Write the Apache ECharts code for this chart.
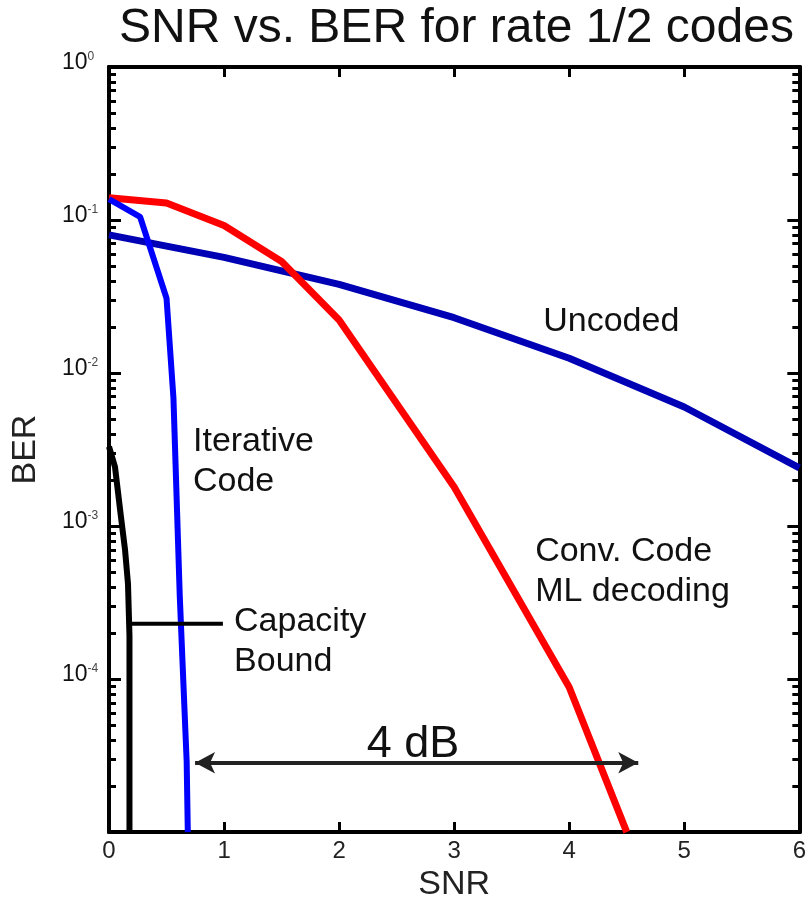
<!DOCTYPE html>
<html>
<head>
<meta charset="utf-8">
<script src="https://cdn.jsdelivr.net/npm/echarts@6/dist/echarts.min.js"></script>
<style>html,body{margin:0;padding:0;background:#fff}#c{width:809px;height:907px}</style>
</head>
<body>
<div id="c"></div>
<script>
// ---- data ----
const uncodedSNR = [0, 1, 2, 3, 4, 5, 6];
const uncodedBER = [0.080, 0.057, 0.038, 0.023, 0.0125, 0.006, 0.0024];
const convSNR = [0, 0.5, 1, 1.5, 2, 3, 4, 4.5];
const convBER = [0.14, 0.129, 0.092, 0.0536, 0.0222, 0.0018, 8.85e-5, 1e-5];
const iterSNR = [0, 0.27, 0.5, 0.56, 0.615, 0.675, 0.685];
const iterBER = [0.137, 0.105, 0.0308, 0.0069, 3.5e-4, 2.9e-5, 1e-5];
const capSNR = [0, 0.052, 0.104, 0.139, 0.165, 0.178, 0.178];
const capBER = [0.0033, 0.00244, 0.00115, 7.05e-4, 4.2e-4, 1.92e-4, 1e-5];
const xTicks = [0, 1, 2, 3, 4, 5, 6];
const yExponents = [0, -1, -2, -3, -4, -5];
// annotations (data coordinates: SNR, BER)
const noteTexts = ['Uncoded', 'Iterative\nCode', 'Capacity\nBound', 'Conv. Code\nML decoding'];
const noteSNR = [3.774, 0.73, 1.087, 3.704];
const noteBER = [0.0218, 0.00265, 1.75e-4, 5.0e-4];
const pointerSNR = [0.17, 0.99];
const pointerBER = [2.3e-4, 2.3e-4];
const arrowSNR = [0.748, 4.6];
const arrowBER = 2.84e-5;
const gapLabel = '4 dB';
const gapLabelAt = [2.643, 3.75e-5];

const L = Math.log10;
const pairs = (xs, ys) => xs.map((x, i) => [x, L(ys[i])]);
const minorTicks = [];
for (let k = -5; k < 0; k++) for (let m = 2; m <= 9; m++) minorTicks.push(L(m * Math.pow(10, k)));
const majorTicks = yExponents.map(e => e);

const FONT = "'Liberation Sans', Arial, sans-serif";

const baseY = {
  type: 'value', min: -5, max: 0, interval: 1,
  splitLine: { show: false },
  axisLine: { show: true, onZero: false, lineStyle: { color: '#000', width: 4 } },
  axisLabel: { show: false },
};

const chart = echarts.init(document.getElementById('c'), null, { renderer: 'canvas' });
chart.setOption({
  animation: false,
  backgroundColor: '#fff',
  title: {
    text: 'SNR vs. BER for rate 1/2 codes',
    left: 114, top: 0,
    textStyle: { fontFamily: FONT, fontSize: 48, fontWeight: 'normal', color: '#111' }
  },
  grid: { left: 109, right: 9, top: 67, bottom: 69 },
  xAxis: [
    {
      type: 'value', min: 0, max: 6, interval: 1, position: 'bottom',
      name: 'SNR', nameLocation: 'middle', nameGap: 28,
      nameTextStyle: { fontFamily: FONT, fontSize: 34, color: '#222' },
      splitLine: { show: false },
      axisLine: { onZero: false, lineStyle: { color: '#000', width: 4 } },
      axisTick: { inside: true, length: 10, lineStyle: { color: '#000', width: 3 } },
      axisLabel: {
        margin: 7, fontFamily: FONT, fontSize: 24, color: '#222',
        formatter: v => xTicks.includes(v) ? String(v) : ''
      }
    },
    {
      type: 'value', min: 0, max: 6, interval: 1, position: 'top',
      splitLine: { show: false },
      axisLine: { onZero: false, lineStyle: { color: '#000', width: 4 } },
      axisTick: { inside: true, length: 10, lineStyle: { color: '#000', width: 3 } },
      axisLabel: { show: false }
    }
  ],
  yAxis: [
    Object.assign({}, baseY, {
      position: 'left',
      name: 'BER', nameLocation: 'middle', nameGap: 66,
      nameTextStyle: { fontFamily: FONT, fontSize: 34, color: '#222' },
      axisTick: { inside: true, length: 12, lineStyle: { color: '#000', width: 3 } },
      axisLabel: {
        show: true, margin: 47, align: 'left', padding: [0, 0, 8, 0],
        formatter: v => (v <= -5 ? '' : '{b|10}{s|' + String(Math.round(v)) + '}'),
        rich: {
          b: { fontFamily: FONT, fontSize: 23, color: '#111', lineHeight: 24 },
          s: { fontFamily: FONT, fontSize: 12, color: '#444', lineHeight: 12, verticalAlign: 'top' }
        }
      }
    }),
    Object.assign({}, baseY, {
      position: 'left',
      axisTick: { inside: true, length: 7, customValues: minorTicks, lineStyle: { color: '#000', width: 3 } }
    }),
    Object.assign({}, baseY, {
      position: 'right',
      axisTick: { inside: true, length: 12, customValues: majorTicks, lineStyle: { color: '#000', width: 3 } }
    }),
    Object.assign({}, baseY, {
      position: 'right',
      axisTick: { inside: true, length: 7, customValues: minorTicks, lineStyle: { color: '#000', width: 3 } }
    })
  ],
  series: [
    {
      name: 'Uncoded', type: 'line', data: pairs(uncodedSNR, uncodedBER),
      showSymbol: false, symbol: 'none', z: 2,
      lineStyle: { color: '#0000b4', width: 7 }
    },
    {
      name: 'Conv. Code ML decoding', type: 'line', data: pairs(convSNR, convBER),
      showSymbol: false, symbol: 'none', z: 3,
      lineStyle: { color: '#ff0000', width: 7 }
    },
    {
      name: 'Iterative Code', type: 'line', data: pairs(iterSNR, iterBER),
      showSymbol: false, symbol: 'none', z: 4,
      lineStyle: { color: '#0000ff', width: 6 }
    },
    {
      name: 'Capacity Bound', type: 'line', data: pairs(capSNR, capBER),
      showSymbol: false, symbol: 'none', z: 5,
      lineStyle: { color: '#000', width: 6 }
    },
    {
      name: 'pointer', type: 'line', data: pairs(pointerSNR, pointerBER),
      showSymbol: false, symbol: 'none', z: 5,
      lineStyle: { color: '#000', width: 4 }
    },
    {
      name: 'notes', type: 'scatter', symbolSize: 0, silent: true, z: 6,
      itemStyle: { opacity: 1 },
      data: noteTexts.map((t, i) => ({
        value: [noteSNR[i], L(noteBER[i])],
        label: {
          show: true, position: 'right', distance: 0, align: 'left', verticalAlign: 'middle',
          formatter: t, fontFamily: FONT, fontSize: 34, lineHeight: 40, color: '#111', opacity: 1
        }
      })).concat([{
        value: [gapLabelAt[0], L(gapLabelAt[1])],
        label: {
          show: true, position: 'inside', align: 'center', verticalAlign: 'middle',
          formatter: gapLabel, fontFamily: FONT, fontSize: 45, color: '#111', opacity: 1
        }
      }]),
      markLine: {
        silent: true, symbol: ['arrow', 'arrow'], symbolSize: [16, 20],
        label: { show: false },
        lineStyle: { color: '#222', width: 4, type: 'solid', opacity: 1 },
        data: [[{ coord: [arrowSNR[0], L(arrowBER)] }, { coord: [arrowSNR[1], L(arrowBER)] }]]
      }
    }
  ]
});
</script>
</body>
</html>
